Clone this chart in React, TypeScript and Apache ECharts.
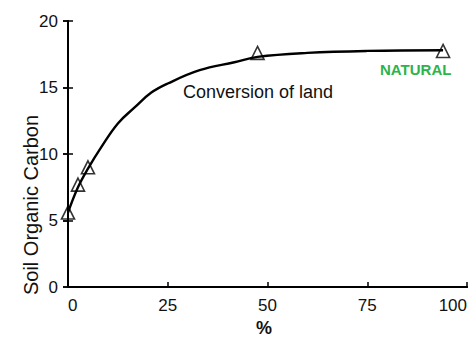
import React, { useEffect, useRef } from "react";
import * as echarts from "echarts";

const curveX = [0, 2.5, 5, 8.3, 12.5, 16.7, 20.8, 25, 33, 41.7, 47.5, 60, 75, 94];
const curveY = [5.6, 7.5, 8.9, 10.5, 12.3, 13.5, 14.6, 15.3, 16.3, 16.9, 17.3, 17.6, 17.75, 17.8];
const pointX = [0, 2.5, 5, 47.5, 94];
const pointY = [5.6, 7.7, 9.0, 17.6, 17.75];
const yTicks = [0, 5, 10, 15, 20];
const xTicks = [0, 25, 50, 75, 100];

export default function App() {
  const ref = useRef<HTMLDivElement>(null);
  useEffect(() => {
    const chart = echarts.init(ref.current!, null, { renderer: "svg" });
    const font = "Liberation Sans, Arial, sans-serif";
    const line = { color: "#000", width: 2 };
    const tick = { color: "#000", width: 1.5 };
    chart.setOption({
      animation: false,
      backgroundColor: "#fff",
      grid: { left: 68, right: 3, top: 21, bottom: 50, outerBoundsMode: "none", containLabel: false },
      xAxis: [
        {
          type: "value",
          min: xTicks[0],
          max: xTicks[xTicks.length - 1],
          interval: 25,
          axisLine: { lineStyle: line },
          axisTick: { inside: true, length: 5, lineStyle: tick },
          axisLabel: {
            color: "#111",
            fontSize: 17,
            fontFamily: font,
            margin: 10,
            alignMinLabel: "left",
            alignMaxLabel: "right",
          },
          splitLine: { show: false },
        },
        {
          type: "value",
          position: "top",
          min: 0,
          max: 100,
          axisLine: { show: true, lineStyle: line },
          axisTick: { show: false },
          axisLabel: { show: false },
          splitLine: { show: false },
        },
      ],
      yAxis: [
        {
          type: "value",
          min: yTicks[0],
          max: yTicks[yTicks.length - 1],
          interval: 5,
          axisLine: { show: true, lineStyle: line },
          axisTick: { show: true, inside: false, length: 5, lineStyle: tick },
          axisLabel: { color: "#111", fontSize: 17, fontFamily: font, margin: 10 },
          splitLine: { show: false },
        },
        {
          type: "value",
          position: "right",
          min: 0,
          max: 20,
          interval: 5,
          axisLine: { show: true, lineStyle: line },
          axisTick: { show: true, inside: true, length: 5, lineStyle: tick },
          axisLabel: { show: false },
          splitLine: { show: false },
        },
        {
          type: "value",
          position: "left",
          offset: 0,
          min: 0,
          max: 20,
          interval: 5,
          axisLine: { show: false },
          axisTick: { show: true, inside: true, length: 5, lineStyle: tick },
          axisLabel: { show: false },
          splitLine: { show: false },
        },
      ],
      series: [
        {
          type: "line",
          smooth: 0.4,
          showSymbol: false,
          data: curveX.map((x, i) => [x, curveY[i]]),
          lineStyle: { color: "#000", width: 2.4 },
          z: 2,
        },
        {
          type: "scatter",
          symbol: "triangle",
          symbolSize: 13,
          data: pointX.map((x, i) => [x, pointY[i]]),
          itemStyle: { color: "rgba(255,255,255,0)", borderColor: "#000", borderWidth: 1.6 },
          z: 3,
        },
      ],
      graphic: [
        {
          type: "text",
          left: 183,
          top: 83,
          style: { text: "Conversion of land", fill: "#111", fontSize: 18, fontFamily: font },
        },
        {
          type: "text",
          left: 380,
          top: 62,
          style: { text: "NATURAL", fill: "#2db34a", fontSize: 15, fontWeight: "bold", fontFamily: font },
        },
        {
          type: "text",
          x: 31,
          y: 205,
          rotation: Math.PI / 2,
          style: {
            text: "Soil Organic Carbon",
            fill: "#111",
            fontSize: 20,
            fontFamily: font,
            align: "center",
            verticalAlign: "middle",
          },
        },
        {
          type: "text",
          x: 264,
          y: 319,
          style: {
            text: "%",
            fill: "#111",
            fontSize: 18,
            fontWeight: "bold",
            fontFamily: font,
            align: "center",
            verticalAlign: "top",
          },
        },
      ],
    });
    return () => chart.dispose();
  }, []);
  return (
    <div
      ref={ref}
      style={{ position: "fixed", left: 0, top: 0, width: 470, height: 337 }}
    />
  );
}
